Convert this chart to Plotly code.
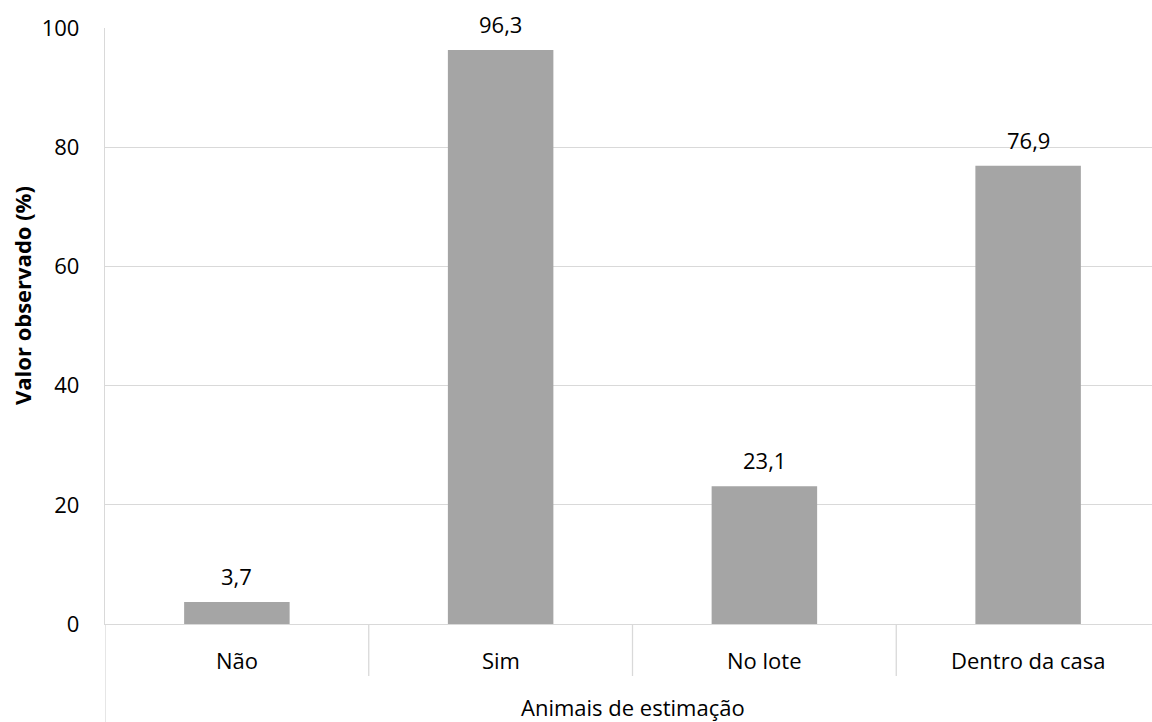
import plotly.graph_objects as go

categories = ["Não", "Sim", "No lote", "Dentro da casa"]
values = [3.7, 96.3, 23.1, 76.9]
y_ticks = [0, 20, 40, 60, 80, 100]
x_title = "Animais de estimação"
y_title = "Valor observado (%)"

FONT = "Open Sans"
GRID = "#D9D9D9"
W, H = 1160, 722
ML, MR, MT, MB = 105, 0, 28, 98
PH = H - MT - MB

fig = go.Figure()
fig.add_trace(go.Bar(
    x=list(range(len(categories))), y=values, width=0.4,
    marker=dict(color="#A5A5A5", line=dict(width=0)),
    hoverinfo="skip",
))

annotations = []
for i, v in enumerate(values):
    annotations.append(dict(
        x=i, y=v, xref="x", yref="y", text=f"{v:.1f}".replace(".", ","),
        showarrow=False, yanchor="middle", yshift=26,
        font=dict(family=FONT, size=22, color="#000000"),
    ))
for i, c in enumerate(categories):
    annotations.append(dict(
        x=i, y=0, xref="x", yref="paper", text=c, showarrow=False,
        yanchor="middle", yshift=-36,
        font=dict(family=FONT, size=22, color="#000000"),
    ))
annotations.append(dict(
    x=0.5, y=0, xref="paper", yref="paper", text=x_title, showarrow=False,
    yanchor="middle", yshift=-83,
    font=dict(family=FONT, size=22, color="#000000"),
))
annotations.append(dict(
    x=0, y=(MT + PH - 296) / PH, xref="paper", yref="paper",
    text=f"<b>{y_title}</b>", showarrow=False, textangle=-90,
    xanchor="center", yanchor="middle", xshift=-83,
    font=dict(family=FONT, size=22, color="#000000"),
))

shapes = []
n = len(categories)
for k in range(n + 1):
    xb = k - 0.5
    y1 = -(H - MT - PH) / PH if k == 0 else -52 / PH
    shapes.append(dict(
        type="line", xref="x", yref="paper", x0=xb, x1=xb, y0=0, y1=y1,
        line=dict(color=GRID, width=1.3),
    ))

fig.update_layout(
    width=W, height=H,
    margin=dict(l=ML, r=MR, t=MT, b=MB),
    paper_bgcolor="white", plot_bgcolor="white",
    showlegend=False,
    annotations=annotations, shapes=shapes,
    xaxis=dict(
        range=[-0.5, n - 0.5], showticklabels=False, showgrid=False,
        zeroline=False, showline=True, linecolor=GRID, linewidth=1.3,
        ticks="", fixedrange=True,
    ),
    yaxis=dict(
        range=[0, 100], tickvals=y_ticks, ticktext=[str(t) for t in y_ticks],
        showgrid=True, gridcolor=GRID, gridwidth=1.3,
        zeroline=False, showline=True, linecolor=GRID, linewidth=1.3,
        ticks="", ticklabelstandoff=20,
        tickfont=dict(family=FONT, size=22, color="#000000"),
        fixedrange=True,
    ),
)

fig.write_html(
    "out.html",
    config={"displayModeBar": False},
    post_script="document.body.style.margin='0';document.body.style.overflow='hidden';",
)
